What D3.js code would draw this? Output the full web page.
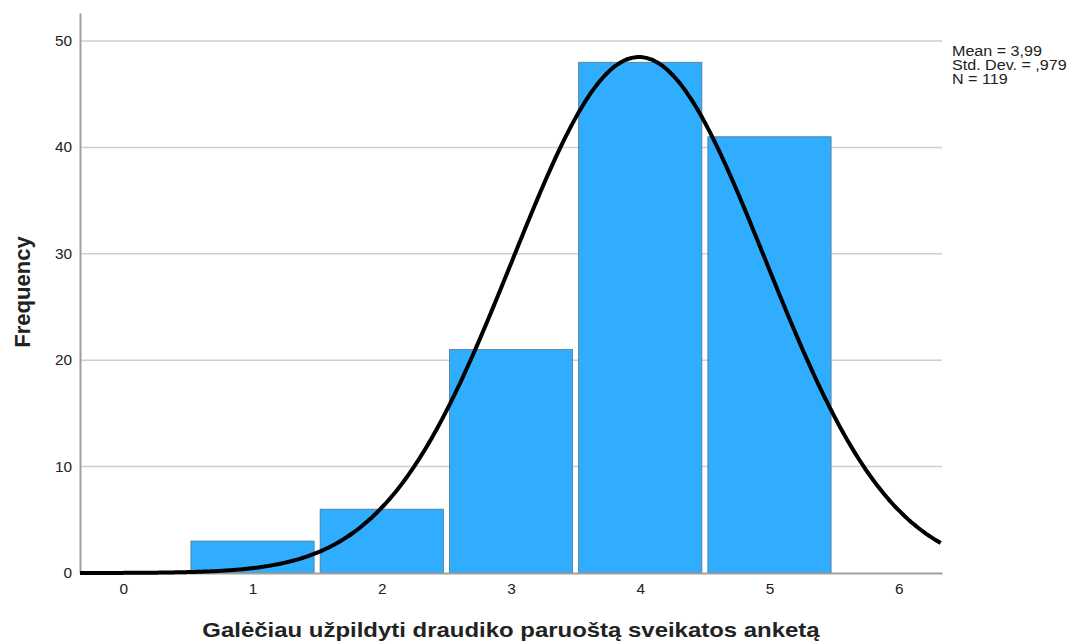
<!DOCTYPE html>
<html>
<head>
<meta charset="utf-8">
<script src="https://cdn.jsdelivr.net/npm/d3@7"></script>
<style>
  body { margin: 0; background: #fff; }
</style>
</head>
<body>
<div id="hist"></div>
<script>
const categories = [1, 2, 3, 4, 5];
const frequencies = [3, 6, 21, 48, 41];
const xTicks = [0, 1, 2, 3, 4, 5, 6];
const yTicks = [0, 10, 20, 30, 40, 50];
const stats = ["Mean = 3,99", "Std. Dev. = ,979", "N = 119"];
const mean = 3.99, sd = 0.979, n = 119;

const width = 1069, height = 642;
const margin = {top: 13, right: 127, bottom: 69, left: 80};
const font = "'Liberation Sans', Arial, sans-serif";

// the reference text is a bit wider than Arial, stretch it horizontally
function widen(sel, k) {
    sel.each(function () {
        const len = this.getComputedTextLength();
        d3.select(this).attr("textLength", len * k).attr("lengthAdjust", "spacingAndGlyphs");
    });
}

const svg = d3.select("#hist").append("svg")
    .attr("width", width)
    .attr("height", height)
    .style("font-family", font);

const x = d3.scaleLinear()
    .domain([-0.335, 6.335])
    .range([margin.left, width - margin.right]);

const y = d3.scaleLinear()
    .domain([0, 52.63])
    .range([height - margin.bottom, margin.top]);

// gridlines
svg.append("g")
    .selectAll("line")
    .data(yTicks.filter(d => d > 0))
    .enter().append("line")
    .attr("x1", margin.left)
    .attr("x2", width - margin.right)
    .attr("y1", d => y(d))
    .attr("y2", d => y(d))
    .attr("stroke", "#cfcfcf")
    .attr("stroke-width", 1.5);

// bars
const bw = x(1) - x(0);
svg.append("g")
    .selectAll("rect")
    .data(categories)
    .enter().append("rect")
    .attr("x", d => x(d) - bw / 2 + 3)
    .attr("width", bw - 6)
    .attr("y", (d, i) => y(frequencies[i]))
    .attr("height", (d, i) => y(0) - y(frequencies[i]))
    .attr("fill", "#31adff")
    .attr("stroke", "#55778f")
    .attr("stroke-width", 0.8);

// axes
const yAxis = d3.axisLeft(y).tickValues(yTicks).tickSize(0).tickPadding(8).tickFormat(d3.format("d"));
const xAxis = d3.axisBottom(x).tickValues(xTicks).tickSize(0).tickPadding(11).tickFormat(d3.format("d"));

const gy = svg.append("g")
    .attr("transform", "translate(" + margin.left + ",0)")
    .call(yAxis);
const gx = svg.append("g")
    .attr("transform", "translate(0," + y(0) + ")")
    .call(xAxis);

[gx, gy].forEach(function (g) {
    g.select(".domain").attr("stroke", "#a0a0a0").attr("stroke-width", 2);
    g.selectAll("text")
        .attr("font-family", font)
        .attr("font-size", 14)
        .attr("fill", "#222")
        .call(widen, 1.1);
});

// normal curve
const pts = d3.range(-0.335, 6.336, 0.02).map(function (v) {
    const z = (v - mean) / sd;
    return [v, n * Math.exp(-0.5 * z * z) / (sd * Math.sqrt(2 * Math.PI))];
});
svg.append("path")
    .datum(pts)
    .attr("fill", "none")
    .attr("stroke", "#000")
    .attr("stroke-width", 4)
    .attr("d", d3.line().x(d => x(d[0])).y(d => y(d[1])).curve(d3.curveBasis));

// labels
svg.append("text")
    .attr("x", 511)
    .attr("y", 637)
    .attr("text-anchor", "middle")
    .attr("font-weight", "bold")
    .attr("font-size", 21)
    .attr("fill", "#222")
    .text("Galėčiau užpildyti draudiko paruoštą sveikatos anketą")
    .call(widen, 1.14);

svg.append("text")
    .attr("transform", "translate(30,292) rotate(-90)")
    .attr("text-anchor", "middle")
    .attr("font-weight", "bold")
    .attr("font-size", 22)
    .attr("fill", "#222")
    .text("Frequency");

svg.append("g")
    .selectAll("text")
    .data(stats)
    .enter().append("text")
    .attr("x", 952)
    .attr("y", (d, i) => 55.5 + i * 14)
    .attr("font-size", 14)
    .attr("fill", "#222")
    .text(d => d)
    .call(widen, 1.15);
</script>
</body>
</html>
